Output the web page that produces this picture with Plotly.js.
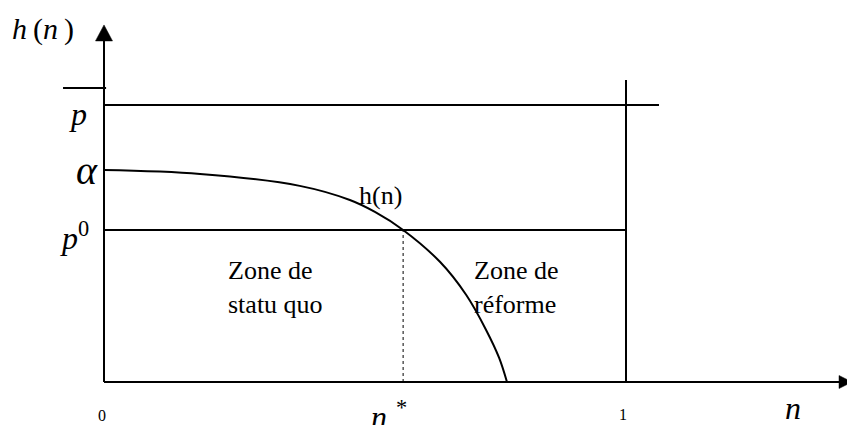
<!DOCTYPE html>
<html>
<head>
<meta charset="utf-8">
<script src="https://cdn.plot.ly/plotly-3.0.1.min.js"></script>
<style>html,body{margin:0;padding:0;background:#fff;}#chart{width:847px;height:425px;}</style>
</head>
<body>
<div id="chart"></div>
<script>
// ---- data (chart units: n on the horizontal axis, h(n) on the vertical axis) ----
const curveN = [0, 0.184, 0.375, 0.471, 0.519, 0.573, 0.644, 0.694, 0.732, 0.757, 0.772];
const curveH = [0.765, 0.751, 0.708, 0.657, 0.614, 0.549, 0.433, 0.314, 0.188, 0.087, 0];
const levelValues = [1.0, 0.765, 0.549];            // p̄, α, p⁰
const levelLabels = ['<i>p</i>', '<i>α</i>', '<i>p</i><sup>0</sup>'];
const nStar = 0.573;
const nTickValues = [0, nStar, 1];
const nTickLabels = ['0', '<i>n</i><sup>\u2009\u2009*</sup>', '1'];
const zoneLabels = ['Zone de<br>statu quo', 'Zone de<br>réforme'];
const curveLabel = 'h(n)';
const yTitle = '<i>h</i>\u2009(<i>n</i>\u2009)';
const xTitle = '<i>n</i>';

const pBar = levelValues[0], alpha = levelValues[1], p0 = levelValues[2];

// ---- frame geometry (axis ends, in chart units) ----
const W = 847, H = 425;
const xRange = [-0.19923, 1.42337];
const yRange = [-0.15523, 1.37906];
const yAxisTip = 1.289;
const xAxisTip = 1.433;
const pLineEnd = 1.0632;
const nOneTop = 1.0903;
const pxX = W / (xRange[1] - xRange[0]);
const pxY = H / (yRange[1] - yRange[0]);

const black = '#000';
const serif = '"Liberation Serif", "Times New Roman", Times, serif';
const lineStyle = {color: black, width: 2};

const traces = [
  {x: [0, pLineEnd], y: [pBar, pBar], mode: 'lines', line: lineStyle, hoverinfo: 'skip'},
  {x: [0, 1], y: [p0, p0], mode: 'lines', line: lineStyle, hoverinfo: 'skip'},
  {x: [1, 1], y: [0, nOneTop], mode: 'lines', line: lineStyle, hoverinfo: 'skip'},
  {x: [nStar, nStar], y: [0, p0], mode: 'lines', line: {color: black, width: 1, dash: 'dot'}, hoverinfo: 'skip'},
  {x: curveN, y: curveH, mode: 'lines', line: {color: black, width: 2, shape: 'spline', smoothing: 1}, hoverinfo: 'skip'}
];

function txt(text, x, y, size, xs, ys, extra) {
  return Object.assign({
    text: text, x: x, y: y, xref: 'x', yref: 'y', showarrow: false,
    xshift: xs || 0, yshift: ys || 0,
    font: {family: serif, size: size, color: black}
  }, extra || {});
}

const annotations = [
  // level labels on the vertical axis
  txt(levelLabels[0], 0, pBar, 32, -26, -9),
  txt(levelLabels[1], 0, alpha, 40, -17, 0),
  txt(levelLabels[2], 0, p0, 32, -30, -6),
  // tick labels on the horizontal axis
  txt(nTickLabels[0], nTickValues[0], 0, 16, -2, -33),
  txt(nTickLabels[1], nTickValues[1], 0, 32, -14, -33),
  txt(nTickLabels[2], nTickValues[2], 0, 16, -3, -32),
  // axis titles
  txt(yTitle, 0, yAxisTip, 30, -61, -4),
  txt(xTitle, 1.32, 0, 32, 0, -26),
  // curve label and zones
  txt(curveLabel, 0.529, p0, 26, 0, 34),
  txt(zoneLabels[0], 0.2337, p0, 26, 0, -58, {xanchor: 'left', align: 'left'}),
  txt(zoneLabels[1], 0.705, p0, 26, 0, -58, {xanchor: 'left', align: 'left'})
];

// arrowheads (pixel sizes converted to axis units)
const yHeadLen = 16 / pxY, yHeadHalf = 8.5 / pxX;
const xHeadLen = 13 / pxX, xHeadHalf = 6.5 / pxY;

const shapes = [
  // vertical axis
  {type: 'line', xref: 'x', yref: 'y', x0: 0, x1: 0, y0: 0, y1: yAxisTip - yHeadLen + 0.005,
   line: {color: black, width: 2}},
  {type: 'path', xref: 'x', yref: 'y', fillcolor: black, line: {color: black, width: 0.5},
   path: 'M' + (-yHeadHalf) + ',' + (yAxisTip - yHeadLen) + ' L0,' + yAxisTip + ' L' + yHeadHalf + ',' + (yAxisTip - yHeadLen) + ' Z'},
  // horizontal axis
  {type: 'line', xref: 'x', yref: 'y', x0: 0, x1: xAxisTip - xHeadLen + 0.005, y0: 0, y1: 0,
   line: {color: black, width: 2}},
  {type: 'path', xref: 'x', yref: 'y', fillcolor: black, line: {color: black, width: 0.5},
   path: 'M' + (xAxisTip - xHeadLen) + ',' + (-xHeadHalf) + ' L' + xAxisTip + ',0 L' + (xAxisTip - xHeadLen) + ',' + xHeadHalf + ' Z'},
  // overline of p̄
  {type: 'line', xref: 'x', yref: 'y', x0: -0.0785, x1: 0.004, y0: pBar + 0.0614, y1: pBar + 0.0614,
   line: {color: black, width: 2}}
];

const layout = {
  width: W, height: H,
  margin: {l: 0, r: 0, t: 0, b: 0, pad: 0},
  paper_bgcolor: '#fff', plot_bgcolor: '#fff',
  font: {family: serif, color: black},
  showlegend: false,
  xaxis: {range: xRange, visible: false, fixedrange: true},
  yaxis: {range: yRange, visible: false, fixedrange: true},
  annotations: annotations,
  shapes: shapes
};

Plotly.newPlot('chart', traces, layout, {displayModeBar: false, staticPlot: true});
</script>
</body>
</html>
